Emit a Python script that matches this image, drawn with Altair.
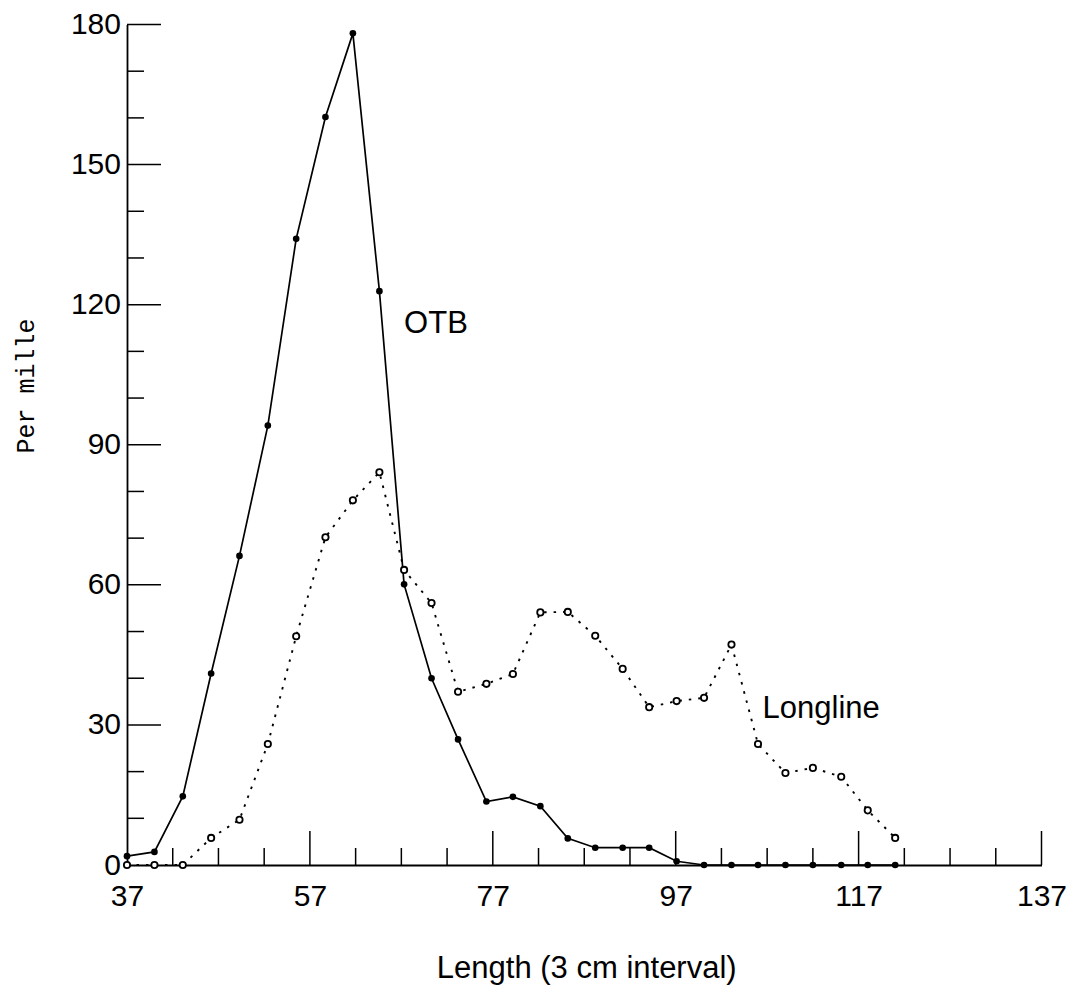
import altair as alt
import pandas as pd

# ---- data ----
lengths = [37.0, 40.0, 43.1, 46.2, 49.3, 52.4, 55.5, 58.7, 61.7, 64.6,
           67.3, 70.3, 73.2, 76.3, 79.2, 82.2, 85.2, 88.2, 91.2, 94.1,
           97.1, 100.1, 103.1, 106.0, 109.0, 112.0, 115.1, 118.0, 121.0]
otb = [1.9, 2.8, 14.7, 41.0, 66.2, 94.1, 134.1, 160.2, 178.1, 122.9,
       60.1, 40.0, 26.9, 13.6, 14.6, 12.6, 5.7, 3.7, 3.7, 3.7,
       0.8, 0, 0, 0, 0, 0, 0, 0, 0]
longline = [0, 0, 0, 5.8, 9.7, 25.9, 49.0, 70.2, 78.1, 84.1,
            63.2, 56.1, 37.1, 38.8, 40.9, 54.1, 54.2, 49.1, 42.0, 33.8,
            35.1, 35.8, 47.2, 25.9, 19.7, 20.8, 18.9, 11.7, 5.8]

x_labels = [37, 57, 77, 97, 117, 137]
x_ticks = [42, 47, 52, 57, 62, 67, 72, 77, 82, 87, 92, 97, 102, 107, 112, 117, 122, 127, 132, 137]
y_labels = [0, 30, 60, 90, 120, 150, 180]
y_ticks = [10, 20, 30, 40, 50, 60, 70, 80, 90, 100, 110, 120, 130, 140, 150, 160, 170, 180]

# ---- layout / style ----
W, H = 914.5, 840.5
XMIN, XMAX, YMIN, YMAX = 37, 137, 0, 180
PX_X = W / (XMAX - XMIN)
PX_Y = H / (YMAX - YMIN)
MAJOR_PX, MINOR_PX = 34, 17
FONT = "Liberation Sans"
X_TITLE = "Length (3 cm interval)"
Y_TITLE = "Per mille"

df = pd.DataFrame({"length": lengths, "OTB": otb, "Longline": longline})

xs = alt.Scale(domain=[XMIN, XMAX], nice=False, zero=False)
ys = alt.Scale(domain=[YMIN, YMAX], nice=False, zero=False)

x_axis = alt.Axis(values=x_labels, ticks=False, grid=False, domain=True,
                  domainColor="black", domainWidth=1.8,
                  labelFont=FONT, labelFontSize=30, labelColor="black",
                  labelPadding=16, labelFlush=False, labelOverlap=False,
                  titleFont=FONT, titleFontSize=31,
                  titleFontWeight="normal", titleColor="black",
                  titleX=W / 2 + 2, titleY=112, titleAlign="center",
                  titleBaseline="alphabetic")
y_axis = alt.Axis(values=y_labels, ticks=False, grid=False, domain=True,
                  domainColor="black", domainWidth=1.8,
                  labelFont=FONT, labelFontSize=30, labelColor="black",
                  labelPadding=6.5, labelFlush=False, labelOverlap=False,
                  titleFont="Liberation Mono", titleFontSize=25,
                  titleFontWeight="normal", titleColor="black",
                  titleAngle=270, titleX=-94, titleY=361, titleAlign="center",
                  titleBaseline="alphabetic")


def X(field):
    return alt.X(field, scale=xs, axis=x_axis, title=X_TITLE)


def Y(field):
    return alt.Y(field, scale=ys, axis=y_axis, title=Y_TITLE)


base = alt.Chart(df)

otb_line = base.mark_line(color="black", strokeWidth=1.7).encode(
    x=X("length:Q"), y=Y("OTB:Q"))
otb_pts = base.mark_circle(color="black", size=44, opacity=1).encode(
    x=X("length:Q"), y=Y("OTB:Q"))
ll_line = base.mark_line(color="black", strokeWidth=1.9, strokeDash=[2.5, 7]).encode(
    x=X("length:Q"), y=Y("Longline:Q"))
ll_pts = base.mark_point(shape="circle", filled=True, fill="white", stroke="black",
                         strokeWidth=1.8, size=40, opacity=1).encode(
    x=X("length:Q"), y=Y("Longline:Q"))

# inward tick marks (major ones longer)
xt = pd.DataFrame({"x": x_ticks})
xt["y0"] = 0.0
xt["y1"] = [(MAJOR_PX if v in x_labels else MINOR_PX) / PX_Y for v in x_ticks]
yt = pd.DataFrame({"y": y_ticks})
yt["x0"] = float(XMIN)
yt["x1"] = [XMIN + (MAJOR_PX if v in y_labels else MINOR_PX) / PX_X for v in y_ticks]

xtick_rules = alt.Chart(xt).mark_rule(color="black", strokeWidth=1.5).encode(
    x=X("x:Q"), y=Y("y0:Q"), y2="y1:Q")
ytick_rules = alt.Chart(yt).mark_rule(color="black", strokeWidth=1.5).encode(
    y=Y("y:Q"), x=X("x0:Q"), x2="x1:Q")

one = pd.DataFrame({"a": [0]})
otb_text = alt.Chart(one).mark_text(text="OTB", font=FONT, fontSize=31, align="left",
                                    baseline="alphabetic", color="black").encode(
    x=alt.datum(67.3), y=alt.datum(114))
ll_text = alt.Chart(one).mark_text(text="Longline", font=FONT, fontSize=31, align="left",
                                   baseline="alphabetic", color="black").encode(
    x=alt.datum(106.5), y=alt.datum(31.5))

chart = alt.layer(
    otb_line, xtick_rules, ytick_rules, ll_line, otb_pts, ll_pts, otb_text, ll_text
).properties(
    width=W, height=H,
    autosize=alt.AutoSizeParams(type="none"),
    padding={"left": 119, "top": 16.5, "right": 26.5, "bottom": 120},
    background="white",
).configure_view(stroke=None)

chart.save("out.html", embed_options={"renderer": "svg", "actions": False})
